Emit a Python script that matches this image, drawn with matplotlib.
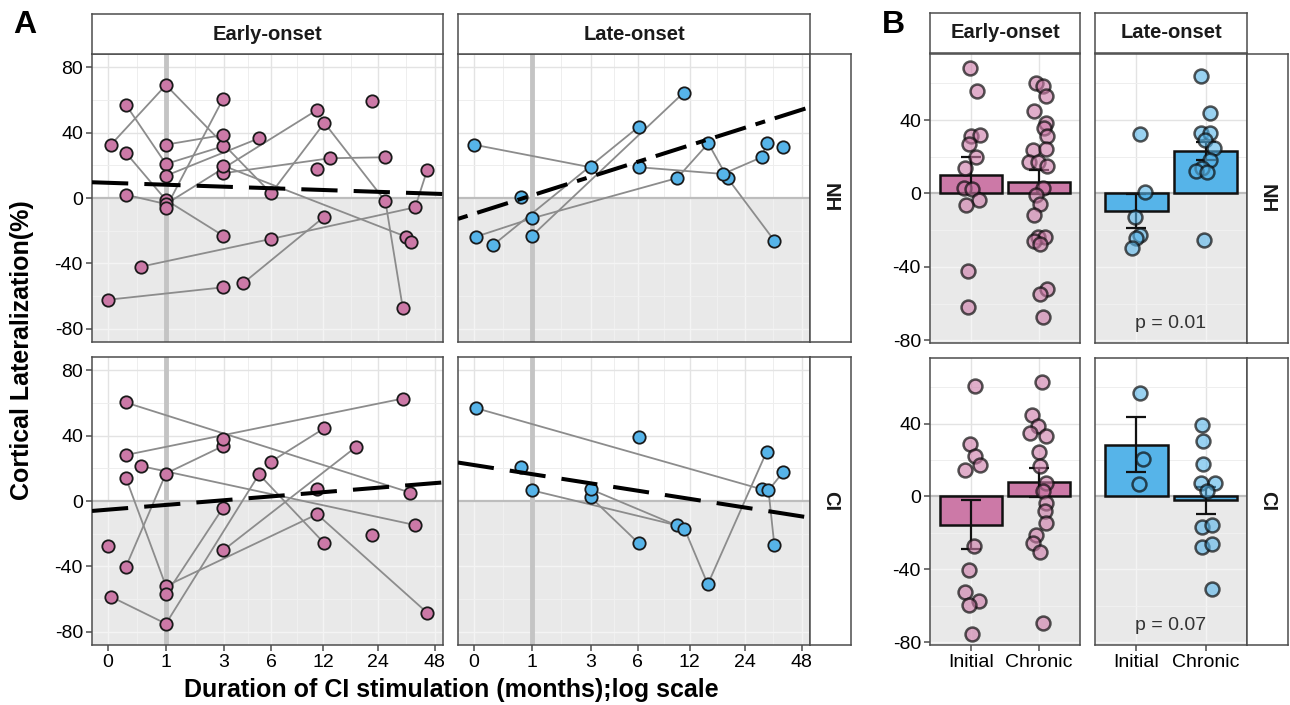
import numpy as np
import matplotlib
matplotlib.use('Agg')
import matplotlib.pyplot as plt

plt.rcParams['font.family'] = ['Liberation Sans', 'DejaVu Sans']

# ---- panel A: lateralization vs months of CI use (one list per subject) ----
early_nh_months = [[0.04, 1, 6.0, 12.2, 26.3, 32.6], [0.24, 1, 2.95], [0.24, 1, 2.95],
                   [0.24, 1, 11.1], [1, 2.95], [1, 5.06], [1, 2.95], [2.95, 13.1, 26.3],
                   [2.95, 33.8], [0.48, 6.0, 37.9, 43.9], [36.0], [4.0, 12.2], [0.0, 2.95],
                   [22.3], [11.1]]
early_nh_lat = [[32.6, 69.0, 2.9, 45.9, -2.0, -67.5], [57.1, 20.8, 31.6], [27.7, -1.2, -23.0],
                [2.0, -3.7, 53.8], [-6.1, 60.6], [13.6, 36.5], [32.6, 38.5], [15.1, 24.3, 24.9],
                [19.8, -23.6], [-42.0, -25.0, -5.7, 17.1], [-27.1], [-52.2, -11.4], [-62.2, -54.6],
                [59.5], [17.5]]

late_nh_months = [[0.0, 3.0], [0.26, 6.1], [1, 11.1], [0.03, 1, 10.2, 15.2, 19.4, 34.5],
                  [0.75], [6.1, 18.3, 29.5, 31.4], [38.4]]
late_nh_lat = [[32.6, 18.8], [-28.7, 43.6], [-23.0, 64.4], [-23.6, -12.4, 12.2, 33.4, 12.0, -26.1],
               [0.8], [18.8, 14.7, 24.9, 33.6], [31.0]]

early_ci_months = [[0.24, 35.8], [0.24, 32.6], [0.48, 37.9], [0.24, 1, 11.1, 43.9],
                   [0.24, 1, 2.95], [1, 2.95], [0.04, 1, 5.06, 12.2], [2.95, 18.3],
                   [6.0, 12.2], [2.95], [0.0], [11.1], [22.3]]
early_ci_lat = [[60.2, 5.1], [28.1, 62.6], [21.4, -14.7], [14.3, -52.0, -8.1, -68.3],
                [-40.4, 16.8, 33.6], [-57.1, -4.1], [-58.5, -75.0, 16.3, -25.9], [-30.2, 33.2],
                [24.1, 44.5], [37.7], [-27.5], [7.6], [-21.0]]

late_ci_months = [[0.03, 29.5], [1, 10.2], [3.0, 6.1], [3.0, 11.2, 15.1, 31.4],
                  [34.5, 32.1, 38.4], [0.75], [6.1]]
late_ci_lat = [[56.7, 7.2], [6.5, -14.9], [2.4, -25.9], [7.2, -16.9, -50.9, 30.2],
               [-27.1, 6.5, 17.7], [21.0], [39.1]]

# linear fits on log2(months+1): (intercept, slope)
fit_early_nh = (9.3, -1.19)
fit_late_nh = (-9.7, 11.33)
fit_early_ci = (-5.3, 2.89)
fit_late_ci = (22.0, -5.59)

month_ticks = [0, 1, 3, 6, 12, 24, 48]

# ---- panel B: initial vs chronic ----
phase_labels = ['Initial', 'Chronic']
mean_early_nh, se_early_nh = [10.0, 6.4], [9.8, 6.5]
mean_late_nh, se_late_nh = [-9.5, 23.3], [9.3, 5.0]
mean_early_ci, se_early_ci = [-15.6, 7.9], [13.4, 8.0]
mean_late_ci, se_late_ci = [28.4, -2.2], [15.0, 7.5]

pts_early_nh_init = [68.5, 56.0, 31.3, 31.8, 26.9, 20.0, 13.6, 2.7, 2.2, -3.6, -6.4, -42.2, -61.8]
jit_early_nh_init = [-0.01, 0.09, 0.0, 0.14, -0.03, 0.07, -0.08, -0.1, 0.01, 0.12, -0.07, -0.05, -0.05]
pts_early_nh_chr = [60.4, 58.5, 53.1, 44.9, 38.5, 35.5, 31.3, 23.6, 24.0, 17.3, 17.3, 14.9, 2.7,
                    -0.9, -5.5, -11.8, -23.6, -23.6, -25.8, -27.6, -51.8, -54.9, -67.3]
jit_early_nh_chr = [-0.05, 0.05, 0.1, -0.08, 0.1, 0.07, 0.12, -0.09, 0.1, -0.15, -0.02, 0.12, 0.05,
                    -0.05, 0.01, -0.07, -0.02, 0.09, -0.07, 0.02, 0.12, 0.02, 0.05]
pts_late_nh_init = [32.2, 0.9, -13.1, -22.7, -24.5, -29.5]
jit_late_nh_init = [0.05, 0.12, -0.02, 0.05, 0.0, -0.07]
pts_late_nh_chr = [64.0, 43.6, 33.1, 33.1, 29.1, 24.5, 18.2, 13.6, 12.4, 11.8, -25.5]
jit_late_nh_chr = [-0.06, 0.07, -0.07, 0.07, -0.01, 0.12, 0.07, -0.05, -0.14, 0.02, -0.02]

pts_early_ci_init = [60.6, 28.8, 22.0, 17.1, 14.3, -27.2, -40.4, -52.3, -57.4, -59.6, -75.2]
jit_early_ci_init = [0.06, -0.02, 0.06, 0.13, -0.08, 0.04, -0.03, -0.08, 0.12, -0.03, 0.02]
pts_early_ci_chr = [62.9, 44.6, 38.5, 34.9, 33.4, 24.4, 16.5, 7.3, 3.1, -3.7, -7.7, -14.7,
                    -21.1, -25.7, -30.3, -69.2]
jit_early_ci_chr = [0.04, -0.1, -0.02, -0.13, 0.1, 0.0, 0.02, 0.1, 0.05, 0.1, 0.09, 0.1,
                    -0.05, -0.09, 0.02, 0.05]
pts_late_ci_init = [56.9, 20.7, 6.8]
jit_late_ci_init = [0.05, 0.1, 0.04]
pts_late_ci_chr = [39.1, 30.3, 18.0, 7.3, 7.3, 2.8, -16.5, -15.6, -27.5, -26.1, -51.0]
jit_late_ci_chr = [-0.05, -0.03, -0.03, -0.07, 0.13, 0.02, -0.05, 0.1, -0.05, 0.1, 0.1]

p_nh, p_ci = 'p = 0.01', 'p = 0.07'

PINK, BLUE = '#CC79A7', '#56B4E9'
BORDER = '#4D4D4D'
SHADE = '#E9E9E9'
W, H = 1290, 705


def box(x0, y0, x1, y1):
    return [x0 / W, 1 - y1 / H, (x1 - x0) / W, (y1 - y0) / H]


def fwd(x):
    return np.log2(np.maximum(np.asarray(x, float) + 1, 1e-6))


def inv(t):
    return 2.0 ** np.asarray(t, float) - 1


def frame(ax):
    for s in ax.spines.values():
        s.set_color(BORDER); s.set_linewidth(1.1)
    ax.tick_params(colors=BORDER, labelcolor='black', length=4.5, width=1.1, labelsize=14, pad=2)


def strip(rect, text, rot=0):
    s = fig.add_axes(box(*rect))
    s.set_xticks([]); s.set_yticks([])
    s.set_facecolor('white')
    for sp in s.spines.values():
        sp.set_color(BORDER); sp.set_linewidth(1.1)
    s.text(0.5, 0.5, text, ha='center', va='center', rotation=rot, fontsize=14.5,
           fontweight='bold', color='#1A1A1A', transform=s.transAxes)


def background(ax, ylim, xmaj, xmin, ymaj, ymin):
    # white above zero with grey grid, shaded below zero with paler grid
    ax.axhspan(ylim[0] - 50, 0, color=SHADE, zorder=0, lw=0)
    f0 = (0 - ylim[0]) / (ylim[1] - ylim[0])
    for xs, lw, up, dn in [(xmaj, 1.0, '#E3E3E3', '#F4F4F4'), (xmin, 0.7, '#EEEEEE', '#F1F1F1')]:
        for x in xs:
            ax.axvline(x, ymin=f0, ymax=1, color=up, lw=lw, zorder=0.5)
            ax.axvline(x, ymin=0, ymax=f0, color=dn, lw=lw, zorder=0.5)
    for ys, lw, up, dn in [(ymaj, 1.0, '#E3E3E3', '#F4F4F4'), (ymin, 0.7, '#EEEEEE', '#F1F1F1')]:
        for y in ys:
            ax.axhline(y, color=up if y > 0 else dn, lw=lw, zorder=0.5)
    ax.axhline(0, color='#BDBDBD', lw=1.6, zorder=1.5)


fig = plt.figure(figsize=(12.9, 7.05), dpi=100)

XLIM = (inv(-0.27), inv(5.76))
YLIM_A = (-88, 88)
minor_months = inv([(fwd(a) + fwd(b)) / 2 for a, b in zip(month_ticks[:-1], month_ticks[1:])])

panels_a = [
    ((92, 54, 443, 342), early_nh_months, early_nh_lat, fit_early_nh, PINK, (0, (9, 4)), True, False),
    ((458, 54, 810, 342), late_nh_months, late_nh_lat, fit_late_nh, BLUE, (0, (2.5, 2.5, 8, 2.5)), False, False),
    ((92, 357, 443, 645), early_ci_months, early_ci_lat, fit_early_ci, PINK, (0, (9, 4)), True, True),
    ((458, 357, 810, 645), late_ci_months, late_ci_lat, fit_late_ci, BLUE, (0, (9, 4)), False, True),
]

for rect, months, lat, fit, col, ls, left, bottom in panels_a:
    ax = fig.add_axes(box(*rect))
    ax.set_xscale('function', functions=(fwd, inv))
    ax.set_xlim(*XLIM); ax.set_ylim(*YLIM_A)
    background(ax, YLIM_A, month_ticks, minor_months, [-80, -40, 0, 40, 80], [-60, -20, 20, 60])
    ax.axvline(1, color='#C4C4C4', lw=3.5, zorder=1.6)
    for mx, vy in zip(months, lat):
        ax.plot(mx, vy, color='#8C8C8C', lw=1.3, zorder=2, solid_capstyle='round')
        ax.plot(mx, vy, 'o', ms=8.9, mfc=col, mec='#1A1A1A', mew=1.3, zorder=3, ls='none')
    tt = np.linspace(-0.27, 5.76, 60)
    ax.plot(inv(tt), fit[0] + fit[1] * tt, color='black', lw=2.9, ls=ls, zorder=4)
    ax.set_xticks(month_ticks)
    ax.set_xticks([], minor=True)
    ax.set_xticklabels([str(m) for m in month_ticks])
    ax.set_yticks([-80, -40, 0, 40, 80])
    ax.set_yticklabels(['-80', '-40', '0', '40', '80'])
    ax.set_yticks([], minor=True)
    frame(ax)
    ax.tick_params(left=left, labelleft=left, bottom=bottom, labelbottom=bottom)

strip((92, 14, 443, 54), 'Early-onset')
strip((458, 14, 810, 54), 'Late-onset')
strip((810, 54, 851, 342), 'NH', rot=-90)
strip((810, 357, 851, 645), 'CI', rot=-90)

# ---- panel B ----
YLIM_B = (-81.5, 76)
panels_b = [
    ((930, 54, 1080, 343), mean_early_nh, se_early_nh, [pts_early_nh_init, pts_early_nh_chr],
     [jit_early_nh_init, jit_early_nh_chr], PINK, None, True, False),
    ((1095, 54, 1247, 343), mean_late_nh, se_late_nh, [pts_late_nh_init, pts_late_nh_chr],
     [jit_late_nh_init, jit_late_nh_chr], BLUE, p_nh, False, False),
    ((930, 358, 1080, 645), mean_early_ci, se_early_ci, [pts_early_ci_init, pts_early_ci_chr],
     [jit_early_ci_init, jit_early_ci_chr], PINK, None, True, True),
    ((1095, 358, 1247, 645), mean_late_ci, se_late_ci, [pts_late_ci_init, pts_late_ci_chr],
     [jit_late_ci_init, jit_late_ci_chr], BLUE, p_ci, False, True),
]

for rect, means, ses, pts, jits, col, ptxt, left, bottom in panels_b:
    ax = fig.add_axes(box(*rect))
    ax.set_xlim(0.4, 2.6); ax.set_ylim(*YLIM_B)
    background(ax, YLIM_B, [1, 2], [], [-80, -40, 0, 40], [-60, -20, 20, 60])
    ax.bar([1, 2], means, width=0.9, color=col, edgecolor='#111111', lw=1.8, zorder=2)
    ax.errorbar([1, 2], means, yerr=ses, fmt='none', ecolor='#111111', elinewidth=1.6,
                capsize=7, capthick=1.6, zorder=3)
    fc = matplotlib.colors.to_rgba(col, 0.6)
    for k, (vals, jj) in enumerate(zip(pts, jits)):
        ax.scatter(np.array(jj) + k + 1, vals, s=100, facecolor=fc,
                   edgecolor=(0.05, 0.05, 0.05, 0.7), linewidth=1.8, zorder=4)
    if ptxt:
        ax.text(1.5, -71, ptxt, ha='center', va='center', fontsize=14, color='#333333')
    ax.set_xticks([1, 2]); ax.set_xticklabels(phase_labels)
    ax.set_yticks([-80, -40, 0, 40]); ax.set_yticklabels(['-80', '-40', '0', '40'])
    frame(ax)
    ax.tick_params(left=left, labelleft=left, bottom=bottom, labelbottom=bottom)

strip((930, 13, 1080, 53), 'Early-onset')
strip((1095, 13, 1247, 53), 'Late-onset')
strip((1247, 54, 1288, 343), 'NH', rot=-90)
strip((1247, 358, 1288, 645), 'CI', rot=-90)

fig.text(22 / W, 1 - 350 / H, 'Cortical Lateralization(%)', rotation=90, ha='center', va='center',
         fontsize=18, fontweight='bold')
fig.text(451 / W, 1 - 690 / H, 'Duration of CI stimulation (months);log scale', ha='center',
         va='center', fontsize=18, fontweight='bold')
fig.text(25 / W, 1 - 25 / H, 'A', ha='center', va='center', fontsize=23, fontweight='bold')
fig.text(893 / W, 1 - 25 / H, 'B', ha='center', va='center', fontsize=23, fontweight='bold')

fig.savefig('out.png', dpi=100)
